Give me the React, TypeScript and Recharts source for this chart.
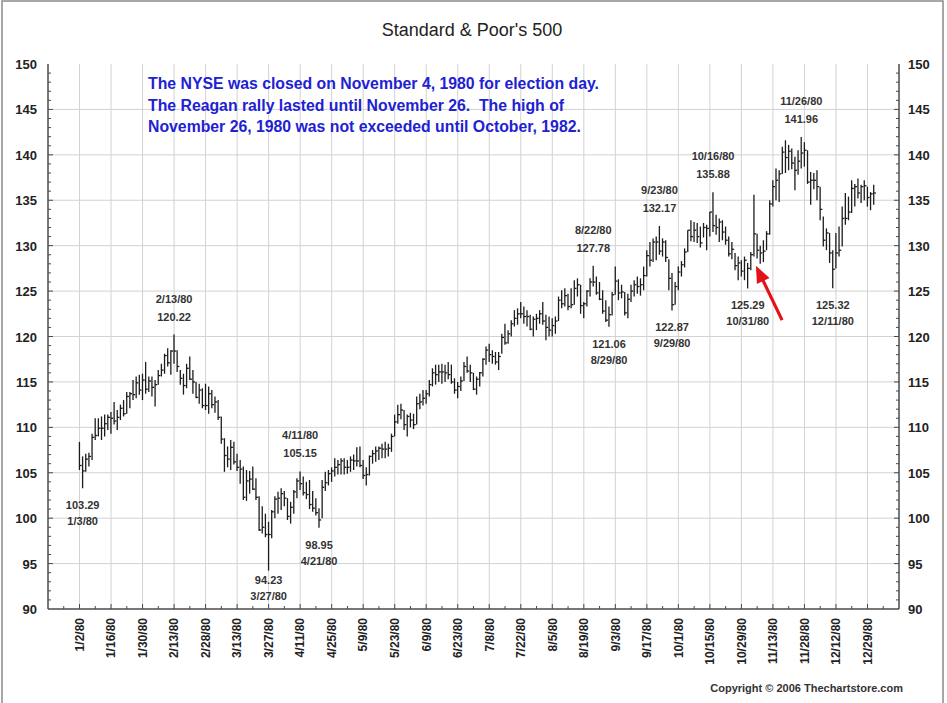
import { ComposedChart, Bar, Scatter, XAxis, YAxis, CartesianGrid, ReferenceLine } from 'recharts';

const FONT = '"Liberation Sans", Arial, Helvetica, sans-serif';

// x-axis labels, one every ten sessions starting with the first session of 1980
const dateLabels = [
  '1/2/80', '1/16/80', '1/30/80', '2/13/80', '2/28/80', '3/13/80', '3/27/80', '4/11/80', '4/25/80',
  '5/9/80', '5/23/80', '6/9/80', '6/23/80', '7/8/80', '7/22/80', '8/5/80', '8/19/80', '9/3/80',
  '9/17/80', '10/1/80', '10/15/80', '10/29/80', '11/13/80', '11/28/80', '12/12/80', '12/29/80',
];

// daily [high, low, close]
const jan = [
  [108.4, 105.3, 105.8], [106.8, 103.29, 105.2], [107.1, 105.1, 106.5], [107.2, 105.7, 106.8], [109.3, 106.4, 108.9],
  [111.0, 108.6, 109.1], [111.0, 109.0, 109.9], [111.2, 108.6, 109.9], [111.4, 109.0, 110.4], [111.4, 109.7, 111.1],
  [111.7, 109.3, 111.0], [112.8, 110.3, 110.7], [111.9, 109.7, 111.1], [112.5, 110.8, 112.1], [113.0, 111.2, 111.5],
  [113.9, 111.5, 113.4], [113.9, 112.1, 113.7], [115.2, 113.0, 113.6], [115.6, 113.2, 114.9], [115.8, 113.6, 114.1],
  [115.9, 113.0, 115.2], [117.2, 113.7, 114.2],
];
const feb = [
  [115.6, 113.9, 115.1], [115.6, 113.4, 114.4], [115.2, 112.3, 114.7], [116.3, 114.7, 115.7], [117.0, 115.6, 116.3],
  [118.1, 115.9, 117.9], [118.7, 116.7, 117.1], [118.5, 115.8, 118.4], [120.22, 117.0, 118.4], [118.5, 116.1, 116.7],
  [116.3, 114.7, 115.4], [115.9, 113.6, 114.6], [117.0, 114.3, 116.5], [117.8, 115.2, 115.3], [116.3, 113.7, 115.0],
  [115.0, 113.2, 113.3], [114.8, 112.6, 114.1], [114.3, 112.1, 112.4], [114.8, 111.9, 112.4], [114.5, 111.5, 113.7],
];
const mar = [
  [114.1, 112.1, 112.5], [113.4, 111.6, 112.8], [113.0, 110.8, 111.1], [111.2, 108.2, 108.7], [108.8, 105.1, 106.9],
  [107.9, 105.6, 106.5], [108.6, 105.3, 107.8], [108.4, 105.9, 106.2], [107.1, 105.2, 105.6], [106.4, 103.8, 105.4],
  [105.7, 102.0, 102.3], [105.3, 101.9, 104.1], [105.2, 102.7, 104.3], [105.7, 103.1, 103.2], [104.4, 102.0, 102.3],
  [102.4, 98.6, 98.7], [101.3, 98.3, 99.0], [100.5, 97.9, 98.2], [99.6, 94.23, 98.2], [100.9, 97.8, 100.7],
  [102.4, 100.0, 102.1],
];
const apr = [
  [102.9, 100.5, 102.2], [103.3, 100.9, 102.7], [103.0, 101.3, 102.2], [102.2, 99.8, 100.2], [101.8, 99.4, 101.2],
  [103.1, 100.5, 102.9], [104.4, 102.2, 104.1], [105.15, 103.1, 103.8], [104.6, 102.5, 102.8], [104.0, 102.1, 102.6],
  [104.2, 101.0, 101.5], [103.0, 100.7, 101.1], [102.2, 100.3, 100.6], [101.1, 98.95, 99.8], [104.2, 100.0, 103.4],
  [105.1, 103.0, 103.9], [105.3, 103.6, 104.9], [105.6, 104.0, 105.2], [106.6, 104.6, 105.6], [106.4, 104.8, 105.9],
  [106.6, 104.8, 106.3],
];
const may = [
  [106.6, 104.8, 105.6], [106.4, 104.9, 105.6], [106.8, 105.1, 106.4], [107.0, 105.3, 106.3], [107.8, 105.7, 106.3],
  [107.9, 105.6, 105.8], [106.4, 104.3, 104.7], [105.6, 103.6, 104.8], [106.9, 104.7, 106.8], [107.5, 106.0, 107.1],
  [107.9, 106.2, 107.4], [107.9, 106.4, 107.7], [108.2, 106.6, 107.6], [108.4, 106.6, 107.6], [108.2, 106.8, 107.7],
  [109.3, 107.3, 109.0], [111.4, 109.0, 110.6], [112.5, 110.4, 111.4], [112.6, 110.9, 111.9], [111.9, 109.7, 110.3],
  [111.4, 109.0, 111.2],
];
const jun = [
  [111.6, 110.0, 110.8], [111.5, 109.8, 110.3], [113.4, 110.3, 112.6], [113.7, 112.0, 112.8], [114.1, 112.4, 113.2],
  [114.1, 112.6, 113.7], [115.2, 113.4, 114.7], [116.5, 114.5, 116.0], [116.9, 114.7, 115.8], [116.9, 115.0, 116.1],
  [117.0, 114.8, 116.1], [116.9, 115.0, 116.0], [117.2, 115.3, 115.8], [116.9, 114.8, 115.0], [115.4, 113.7, 114.1],
  [115.0, 113.2, 114.5], [115.6, 114.0, 115.1], [117.2, 115.1, 116.7], [117.8, 116.0, 116.2], [116.9, 115.0, 116.0],
  [116.0, 114.1, 114.2],
];
const jul = [
  [115.6, 113.6, 115.3], [116.1, 114.5, 116.0], [117.6, 115.6, 117.5], [118.9, 116.9, 118.5], [119.2, 117.2, 118.0],
  [118.5, 117.0, 117.8], [118.3, 116.9, 117.2], [118.3, 116.3, 117.8], [120.3, 118.1, 119.9], [121.4, 119.1, 119.3],
  [120.7, 119.2, 120.3], [121.8, 120.0, 121.4], [122.9, 121.1, 122.0], [123.1, 121.3, 122.5], [123.8, 122.0, 122.5],
  [123.3, 121.4, 122.2], [122.9, 121.1, 122.2], [122.4, 120.7, 120.8], [122.2, 120.0, 121.9], [122.5, 120.7, 122.0],
  [122.9, 121.4, 122.5], [123.8, 121.3, 121.7],
];
const aug = [
  [122.4, 119.6, 121.0], [122.2, 120.0, 120.7], [122.0, 120.0, 121.2], [122.2, 120.3, 121.7], [124.4, 121.7, 124.0],
  [125.1, 123.1, 123.6], [125.3, 123.3, 124.5], [124.7, 122.9, 123.3], [125.3, 123.1, 123.5], [126.2, 123.5, 125.3],
  [126.4, 124.4, 125.7], [125.7, 122.5, 123.4], [123.8, 122.0, 123.6], [125.1, 123.3, 125.0], [126.4, 124.4, 126.0],
  [127.78, 125.5, 126.0], [126.6, 124.6, 124.8], [126.0, 124.0, 124.1], [125.1, 122.5, 122.8], [124.0, 121.6, 121.8],
  [123.3, 121.06, 122.4],
];
const sep = [
  [124.9, 122.3, 124.6], [127.7, 124.6, 126.1], [126.3, 124.0, 124.8], [125.7, 124.2, 124.9], [124.9, 122.3, 122.6],
  [124.7, 122.0, 124.1], [125.7, 123.8, 125.0], [126.2, 124.4, 125.7], [126.6, 124.7, 125.5], [126.4, 124.5, 125.7],
  [127.7, 125.1, 126.7], [129.5, 126.6, 128.9], [130.4, 127.7, 128.4], [130.8, 128.2, 130.4], [131.0, 128.4, 130.4],
  [132.17, 129.0, 129.4], [130.8, 128.8, 130.4], [130.6, 128.2, 128.7], [128.5, 125.1, 126.4], [127.0, 122.87, 123.5],
  [126.0, 123.5, 125.5],
];
const oct = [
  [127.7, 125.1, 127.1], [128.3, 126.6, 127.9], [129.7, 127.6, 129.3], [131.7, 129.3, 131.7], [132.8, 130.5, 131.0],
  [132.6, 130.4, 131.7], [132.5, 130.3, 131.0], [132.1, 129.8, 130.3], [132.5, 130.9, 132.0], [132.3, 129.5, 131.9],
  [133.7, 131.0, 133.7], [135.88, 131.5, 132.2], [133.4, 131.2, 132.0], [133.0, 130.4, 132.6], [132.8, 130.6, 131.5],
  [132.1, 130.1, 130.6], [131.0, 128.8, 129.1], [130.4, 128.5, 129.6], [129.2, 127.3, 127.8], [128.8, 126.2, 128.1],
  [128.4, 126.6, 127.2], [128.8, 126.2, 128.4], [128.1, 125.29, 127.5],
];
const nov = [
  [129.3, 127.3, 129.0], [135.6, 128.8, 131.3], [131.3, 128.6, 129.5], [130.0, 128.0, 129.2], [130.6, 128.2, 129.4],
  [131.6, 129.5, 131.3], [135.0, 131.2, 134.6], [137.2, 134.3, 136.5], [138.5, 135.0, 137.2], [138.3, 134.8, 137.9],
  [140.9, 137.9, 140.3], [141.6, 138.0, 139.7], [141.1, 138.3, 140.4], [140.7, 138.4, 139.1], [139.8, 136.1, 138.3],
  [140.5, 137.8, 139.3], [141.96, 138.5, 140.2], [141.4, 138.7, 140.5],
];
const dec = [
  [140.5, 136.8, 137.0], [138.1, 134.5, 137.2], [138.0, 136.2, 137.2], [138.3, 135.0, 136.5], [136.5, 132.8, 134.0],
  [133.2, 129.9, 130.6], [131.9, 129.5, 131.4], [131.4, 128.1, 129.2], [129.5, 125.32, 127.4], [131.4, 127.5, 129.2],
  [132.1, 128.8, 129.5], [134.3, 129.9, 133.0], [135.8, 132.3, 133.0], [135.4, 132.8, 133.7], [137.2, 133.6, 136.3],
  [136.8, 134.3, 136.5], [137.4, 135.2, 135.8], [136.7, 134.7, 136.5], [137.2, 135.0, 136.6], [136.5, 134.3, 135.3],
  [135.9, 133.9, 135.7], [136.7, 134.5, 135.8],
];

// labelled turning points (day = trading-session number from 1/2/80)
const highNotes = [
  { day: 30, value: 120.22, date: '2/13/80' },
  { day: 70, value: 105.15, date: '4/11/80' },
  { day: 163, value: 127.78, date: '8/22/80' },
  { day: 184, value: 132.17, date: '9/23/80' },
  { day: 201, value: 135.88, date: '10/16/80' },
  { day: 229, value: 141.96, date: '11/26/80' },
];
const lowNotes = [
  { day: 1, value: 103.29, date: '1/3/80' },
  { day: 60, value: 94.23, date: '3/27/80' },
  { day: 76, value: 98.95, date: '4/21/80' },
  { day: 168, value: 121.06, date: '8/29/80' },
  { day: 188, value: 122.87, date: '9/29/80' },
  { day: 212, value: 125.29, date: '10/31/80' },
  { day: 239, value: 125.32, date: '12/11/80' },
];

// red arrow pointing at the post-election gap
const arrowTail = { day: 222.9, price: 121.8 };
const arrowTip = { day: 214.6, price: 127.8 };

const notes = [
  'The NYSE was closed on November 4, 1980 for election day.',
  'The Reagan rally lasted until November 26.  The high of',
  'November 26, 1980 was not exceeded until October, 1982.',
];

const dayDomain = [-10, 260];
const priceDomain = [90, 150];

const sessions = [jan, feb, mar, apr, may, jun, jul, aug, sep, oct, nov, dec]
  .flat()
  .map(([high, low, close], day) => ({ day, high, low, close, range: [low, high] }));

const dayTicks = Array.from({ length: 53 }, (_, i) => i * 5 - 5);
const priceTicks = Array.from({ length: 61 }, (_, i) => 90 + i);
const gridPrices = priceTicks.filter((v) => v % 5 === 0 && v > 90 && v < 150);
const gridDays = dayTicks.filter((d) => d % 10 === 0 && d >= 0 && d <= 250);

const AXIS = '#4a4a4a';
const GRID = '#d2d2d2';
const INK = '#1c1c1c';

const scaleOf = (axis: any) => {
  const s = axis?.scale;
  if (typeof s === 'function') return s;
  if (s && typeof s.map === 'function') return (v: number) => s.map(v);
  return null;
};

const hGrid = ({ yAxis, offset }: any) => {
  const s = scaleOf(yAxis);
  return gridPrices.map((v) =>
    s ? s(v) : offset.top + ((priceDomain[1] - v) / (priceDomain[1] - priceDomain[0])) * offset.height,
  );
};
const vGrid = ({ xAxis, offset }: any) => {
  const s = scaleOf(xAxis);
  return gridDays.map((d) =>
    s ? s(d) : offset.left + ((d - dayDomain[0]) / (dayDomain[1] - dayDomain[0])) * offset.width,
  );
};

const HlcBar = (props: any) => {
  const { x, y, width, height, payload } = props;
  if (x == null || y == null) return null;
  const top = Math.min(y, y + height);
  const h = Math.abs(height);
  const cx = x + width / 2;
  const cy = top + ((payload.high - payload.close) / (payload.high - payload.low || 1)) * h;
  return (
    <g>
      <line x1={cx} x2={cx} y1={top} y2={top + h} stroke={INK} strokeWidth={1.3} />
      <line x1={cx} x2={cx + 2.2} y1={cy} y2={cy} stroke={INK} strokeWidth={1.3} />
    </g>
  );
};

const DayTick = (props: any) => {
  const { x, y, payload } = props;
  const day = payload.value;
  const axisY = y - 9;
  const labelled = day % 10 === 0 && day >= 0 && day <= 250;
  return (
    <g>
      <line x1={x} x2={x} y1={axisY} y2={axisY - (labelled ? 5 : 3)} stroke={AXIS} />
      {labelled && (
        <text
          x={x + 4.3}
          y={y}
          transform={`rotate(-90, ${x + 4.3}, ${y})`}
          textAnchor="end"
          fontFamily={FONT}
          fontSize={12}
          fontWeight="bold"
          fill="#222"
        >
          {dateLabels[day / 10]}
        </text>
      )}
    </g>
  );
};

const TopTick = (props: any) => {
  const { x, y } = props;
  return <line x1={x} x2={x} y1={y} y2={y + 4} stroke={AXIS} />;
};

const PriceTick = (props: any) => {
  const { x, y, payload, side } = props;
  const v = payload.value;
  const major = v % 5 === 0;
  const axisX = side === 'left' ? x + 11 : x - 9;
  const dir = side === 'left' ? 1 : -1;
  return (
    <g>
      {v > 90 && v < 150 && (
        <line x1={axisX} x2={axisX + dir * (major ? 5 : 3)} y1={y} y2={y} stroke={AXIS} />
      )}
      {major && (
        <text
          x={x}
          y={y + 5}
          textAnchor={side === 'left' ? 'end' : 'start'}
          fontFamily={FONT}
          fontSize={13}
          fontWeight="bold"
          fill="#222"
        >
          {v}
        </text>
      )}
    </g>
  );
};

const HighNote = (props: any) => {
  const { cx, cy, payload } = props;
  return (
    <g fontFamily={FONT} fontSize={11} fontWeight="bold" fill="#333" textAnchor="middle">
      <text x={cx} y={cy - 32}>{payload.date}</text>
      <text x={cx} y={cy - 14}>{payload.value.toFixed(2)}</text>
    </g>
  );
};

// low labels sit under the bar, but are kept clear of the bottom axis
const LowNote = (props: any) => {
  const { cx, cy, payload } = props;
  const base = Math.min(cy + 37, 600);
  return (
    <g fontFamily={FONT} fontSize={11} fontWeight="bold" fill="#333" textAnchor="middle">
      <text x={cx} y={base - 16}>{payload.value.toFixed(2)}</text>
      <text x={cx} y={base}>{payload.date}</text>
    </g>
  );
};

const Arrow = (props: any) => {
  const { x1, y1, x2, y2 } = props;
  if (x1 == null) return null;
  const dx = x2 - x1;
  const dy = y2 - y1;
  const len = Math.hypot(dx, dy) || 1;
  const ux = dx / len;
  const uy = dy / len;
  const head = 17;
  const half = 7;
  const bx = x2 - ux * head;
  const by = y2 - uy * head;
  return (
    <g>
      <line x1={x1} y1={y1} x2={bx + ux * 2} y2={by + uy * 2} stroke="#e3121a" strokeWidth={3.2} />
      <polygon
        points={`${x2},${y2} ${bx - uy * half},${by + ux * half} ${bx + uy * half},${by - ux * half}`}
        fill="#e3121a"
      />
    </g>
  );
};

export default function App() {
  return (
    <div style={{ position: 'absolute', left: 0, top: 0, width: 947, height: 703, background: '#fff', overflow: 'hidden' }}>
      <ComposedChart width={947} height={703} data={sessions} margin={{ top: 64, right: 0, bottom: 0, left: 0 }}>
        <CartesianGrid
          stroke={GRID}
          horizontalCoordinatesGenerator={hGrid}
          verticalCoordinatesGenerator={vGrid}
        />
        <XAxis
          dataKey="day"
          type="number"
          domain={dayDomain}
          ticks={dayTicks}
          interval={0}
          height={94}
          tickSize={0}
          tickMargin={9}
          tickLine={false}
          axisLine={{ stroke: AXIS, strokeWidth: 1.5 }}
          tick={<DayTick />}
          allowDataOverflow
        />
        <XAxis
          xAxisId="top"
          dataKey="day"
          orientation="top"
          type="number"
          domain={dayDomain}
          ticks={dayTicks}
          interval={0}
          height={0}
          tickSize={0}
          tickMargin={0}
          tickLine={false}
          axisLine={{ stroke: AXIS, strokeWidth: 1.5 }}
          tick={<TopTick />}
          allowDataOverflow
        />
        <YAxis
          type="number"
          domain={priceDomain}
          ticks={priceTicks}
          interval={0}
          width={48}
          tickSize={0}
          tickMargin={11}
          tickLine={false}
          axisLine={{ stroke: AXIS, strokeWidth: 1.5 }}
          tick={<PriceTick side="left" />}
          allowDataOverflow
        />
        <YAxis
          yAxisId="right"
          orientation="right"
          type="number"
          domain={priceDomain}
          ticks={priceTicks}
          interval={0}
          width={48}
          tickSize={0}
          tickMargin={9}
          tickLine={false}
          axisLine={{ stroke: AXIS, strokeWidth: 1.5 }}
          tick={<PriceTick side="right" />}
          allowDataOverflow
        />
        <Bar dataKey="range" barSize={3} shape={<HlcBar />} isAnimationActive={false} />
        <Scatter data={highNotes} dataKey="value" shape={<HighNote />} isAnimationActive={false} />
        <Scatter
          data={lowNotes}
          dataKey="value"
          xAxisId="top"
          yAxisId="right"
          shape={<LowNote />}
          isAnimationActive={false}
        />
        <ReferenceLine
          segment={[
            { x: arrowTail.day, y: arrowTail.price },
            { x: arrowTip.day, y: arrowTip.price },
          ]}
          shape={<Arrow />}
        />
      </ComposedChart>
      <svg
        width={947}
        height={703}
        style={{ position: 'absolute', left: 0, top: 0, pointerEvents: 'none' }}
      >
        <rect x={2} y={1} width={941} height={720} fill="none" stroke="#8a8a8a" strokeWidth={1.5} />
        <text x={472} y={36} textAnchor="middle" fontFamily={FONT} fontSize={18} fill="#222">
          Standard &amp; Poor's 500
        </text>
        {notes.map((line, i) => (
          <text
            key={i}
            x={148}
            y={89 + i * 21.5}
            fontFamily={FONT}
            fontSize={15.8}
            fontWeight="bold"
            fill="#2121d4"
            style={{ whiteSpace: 'pre' }}
          >
            {line}
          </text>
        ))}
        <text x={903} y={692} textAnchor="end" fontFamily={FONT} fontSize={11} fontWeight="bold" fill="#333">
          Copyright © 2006 Thechartstore.com
        </text>
      </svg>
    </div>
  );
}
